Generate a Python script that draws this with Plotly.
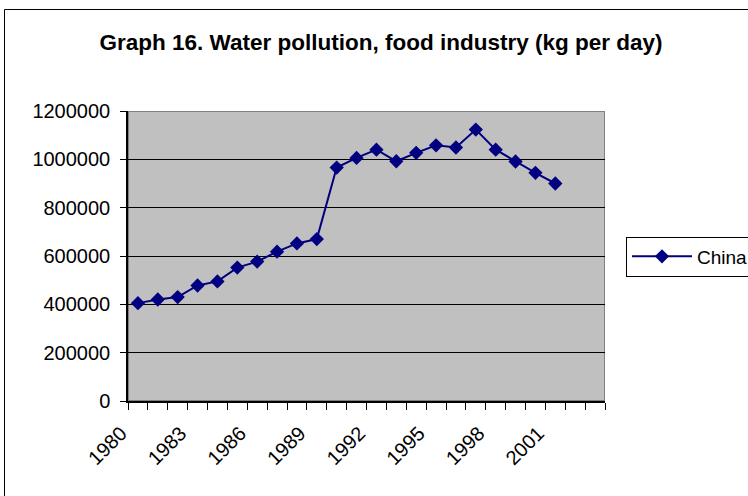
import plotly.graph_objects as go

years = list(range(1980, 2002))
china = [405000, 420000, 430000, 478000, 495000, 552000, 577000, 618000, 652000, 670000,
         966000, 1006000, 1040000, 992000, 1027000, 1058000, 1049000, 1123000, 1040000,
         991000, 944000, 900000]
cat_first, cat_last = 1980, 2003          # 24 category slots on the axis
label_years = list(range(1980, 2002, 3))
y_ticks = list(range(0, 1200001, 200000))

W, H = 748, 496
L, R, T, B = 128, 143, 111, 95
pw, ph = W - L - R, H - T - B

font = "Liberation Sans, Arial, sans-serif"

fig = go.Figure()
fig.add_trace(go.Scatter(
    x=years, y=china, name="China", mode="lines+markers",
    line=dict(color="#000080", width=2),
    marker=dict(symbol="diamond", size=11, color="#000080"),
))

x0, x1 = cat_first - 0.5, cat_last + 0.5
boundaries = [b - 0.5 for b in range(cat_first, cat_last + 2)]

fig.update_layout(
    width=W, height=H,
    margin=dict(l=L, r=R, t=T, b=B, autoexpand=False),
    paper_bgcolor="white", plot_bgcolor="#C0C0C0",
    font=dict(family=font, size=20, color="black"),
    title=dict(text="<b>Graph 16. Water pollution, food industry (kg per day)</b>",
               x=381 / W, xref="container", xanchor="center",
               y=1 - 42 / H, yref="container", yanchor="middle",
               font=dict(family=font, size=22.5, color="black")),
    showlegend=True,
    legend=dict(x=(626 - L) / pw, xanchor="left", y=(H - B - 256.5) / ph, yanchor="middle",
                bordercolor="black", borderwidth=1, bgcolor="white",
                font=dict(family=font, size=19), itemwidth=60, entrywidth=150),
    xaxis=dict(range=[x0, x1], tickmode="array", tickvals=label_years,
               ticktext=[str(v) for v in label_years], tickangle=-45, ticks="",
               showgrid=False, zeroline=False, showline=True, linecolor="black", linewidth=1.5,
               minor=dict(tickmode="array", tickvals=boundaries, ticks="outside",
                          ticklen=7, tickcolor="black", tickwidth=1, showgrid=False),
               ticklabelstandoff=11, ticklabelshift=-17),
    yaxis=dict(range=[0, 1200000], tickmode="array", tickvals=y_ticks,
               ticktext=[str(v) for v in y_ticks], ticks="outside", ticklen=6,
               tickcolor="black", showgrid=True, gridcolor="black", gridwidth=1,
               zeroline=False, showline=True, linecolor="black", linewidth=1.5,
               ticklabelstandoff=6),
    shapes=[
        dict(type="rect", xref="x", yref="y", x0=x0, x1=x1, y0=0, y1=1200000,
             line=dict(color="#808080", width=2), layer="below"),
        dict(type="rect", xref="paper", yref="paper",
             x0=(4.5 - L) / pw, x1=(W + 20 - L) / pw,
             y0=-(B + 20) / ph, y1=(H - B - 9.5) / ph,
             line=dict(color="black", width=1), layer="above"),
    ],
)

fig.write_html("out.html")
